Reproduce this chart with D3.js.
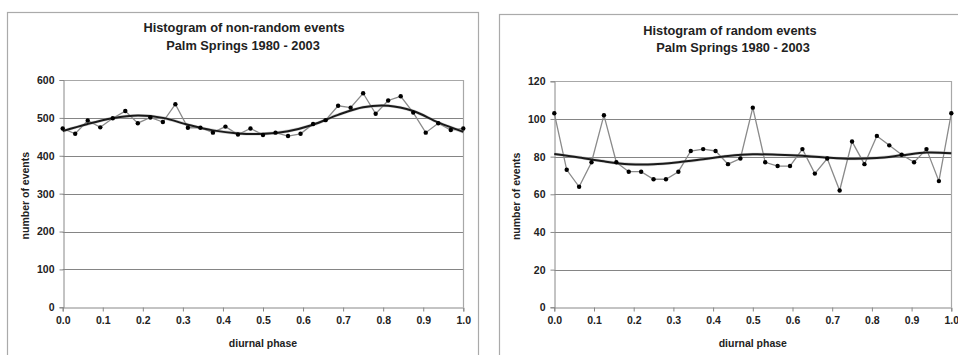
<!DOCTYPE html>
<html><head><meta charset="utf-8">
<script src="https://cdn.jsdelivr.net/npm/d3@7"></script>
<style>
html,body{margin:0;padding:0;background:#fff;}
svg{display:block;font-family:"Liberation Sans",Arial,sans-serif;}
</style></head>
<body>
<svg id="c" width="958" height="355"></svg>
<script>
// ---- data ----
const phase = d3.range(33).map(i => i / 32);
const nonRandomCounts = [472,458,493,475,499,518,486,501,489,536,474,474,461,477,456,472,455,461,452,458,484,494,532,527,565,511,546,557,514,461,486,468,472];
const fitPhase = [0,0.0625,0.125,0.1875,0.25,0.3125,0.375,0.4375,0.5,0.5625,0.625,0.6875,0.75,0.8125,0.875,0.9375,1.0];
const nonRandomFit = [465,484,499,506,500,482,467,459,458,465,482,508,528,532,518,488,463];
const randomCounts = [103,73,64,77,102,77,72,72,68,68,72,83,84,83,76,79,106,77,75,75,84,71,79,62,88,76,91,86,81,77,84,67,103];
const randomFit = [81.4,79.6,77.5,76.0,75.9,77.0,78.6,80.3,81.2,81.0,80.5,79.5,78.9,79.3,80.7,82.2,81.8];
const xTicks = [0,0.1,0.2,0.3,0.4,0.5,0.6,0.7,0.8,0.9,1.0];
const yTicksLeft = [0,100,200,300,400,500,600];
const yTicksRight = [0,20,40,60,80,100,120];

const svg = d3.select("#c");

function chart(o){
  const g = svg.append("g");
  // frame
  g.append("rect").attr("x", o.frame[0]+0.5).attr("y", o.frame[1]+0.5)
    .attr("width", o.frame[2]).attr("height", 400)
    .attr("fill", "#fff").attr("stroke", "#aaa").attr("stroke-width", 1.2);
  const x = d3.scaleLinear().domain([0,1]).range([o.x0, o.x1]);
  const y = d3.scaleLinear().domain([0, o.ymax]).range([o.yb, o.yt]);
  // gridlines
  g.append("g").selectAll("line").data(o.yTicks.filter(d => d > 0 && d < o.ymax)).join("line")
    .attr("x1", o.x0).attr("x2", o.x1).attr("y1", d => Math.round(y(d))+0.5).attr("y2", d => Math.round(y(d))+0.5)
    .attr("stroke", "#858585").attr("stroke-width", 1);
  // plot border top/right
  g.append("path").attr("d", `M${o.x0},${Math.round(y(o.ymax))+0.5}H${Math.round(o.x1)+0.5}V${o.yb}`)
    .attr("fill", "none").attr("stroke", "#a8a8a8").attr("stroke-width", 1.2);
  // axes
  const xa = g.append("g").attr("transform", `translate(0,${Math.round(o.yb)+0.5})`)
    .call(d3.axisBottom(x).tickValues(xTicks).tickFormat(d3.format(".1f")).tickSizeOuter(0).tickSize(4).tickPadding(5));
  const ya = g.append("g").attr("transform", `translate(${Math.round(o.x0)+0.5},0)`)
    .call(d3.axisLeft(y).tickValues(o.yTicks).tickSizeOuter(0).tickSize(4).tickPadding(5));
  [xa, ya].forEach(a => {
    a.select(".domain").attr("stroke", "#888");
    a.selectAll(".tick line").attr("stroke", "#888");
    a.selectAll("text").attr("fill", "#222").attr("font-size", "10.5px").attr("font-weight", "bold")
      .attr("font-family", "Liberation Sans, Arial, sans-serif");
  });
  // data line
  const line = d3.line().x((d,i) => x(phase[i])).y(d => y(d));
  g.append("path").datum(o.counts).attr("d", line).attr("fill", "none")
    .attr("stroke", "#8a8a8a").attr("stroke-width", 1.3);
  // fit
  const fitLine = d3.line().x((d,i) => x(fitPhase[i])).y(d => y(d)).curve(d3.curveCatmullRom);
  g.append("path").datum(o.fit).attr("d", fitLine).attr("fill", "none")
    .attr("stroke", "#aaa").attr("stroke-width", 3.2).attr("opacity", 0.5);
  g.append("path").datum(o.fit).attr("d", fitLine).attr("fill", "none")
    .attr("stroke", "#1a1a1a").attr("stroke-width", 2);
  // markers
  g.append("g").selectAll("circle").data(o.counts).join("circle")
    .attr("cx", (d,i) => x(phase[i])).attr("cy", d => y(d)).attr("r", 2.2)
    .attr("fill", "#000");
  // titles
  const tt = g.append("g").attr("font-weight", "bold").attr("fill", "#222").attr("font-size", "12.8px").attr("text-anchor", "middle");
  tt.append("text").attr("x", o.t1[0]).attr("y", o.t1[1]).text(o.title1);
  tt.append("text").attr("x", o.t2[0]).attr("y", o.t2[1]).text("Palm Springs 1980 - 2003");
  g.append("text").attr("x", (o.x0+o.x1)/2).attr("y", 347).attr("text-anchor", "middle")
    .attr("font-size", "10.5px").attr("font-weight", "bold").attr("fill", "#222").text("diurnal phase");
  g.append("text").attr("transform", `translate(${o.ytx},${(o.yt+o.yb)/2 + 2}) rotate(-90)`).attr("text-anchor", "middle")
    .attr("dy", "0.35em").attr("font-size", "10.5px").attr("font-weight", "bold").attr("fill", "#222").text("number of events");
}

chart({frame:[7,12,471], x0:62.7, x1:463.3, yt:80, yb:307.3, ymax:600, yTicks:yTicksLeft,
  counts:nonRandomCounts, fit:nonRandomFit, title1:"Histogram of non-random events",
  t1:[244,31.5], t2:[243,49.5], ytx:25});
chart({frame:[499,14,470], x0:554.3, x1:951.3, yt:81.3, yb:307.3, ymax:120, yTicks:yTicksRight,
  counts:randomCounts, fit:randomFit, title1:"Histogram of random events",
  t1:[730,34.5], t2:[733,52], ytx:516});
</script>
</body></html>
